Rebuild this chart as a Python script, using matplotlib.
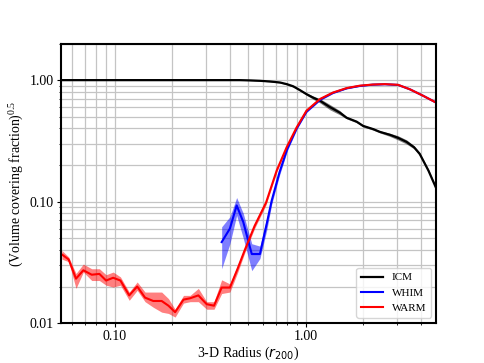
import numpy as np
import matplotlib
matplotlib.use("Agg")
import matplotlib.pyplot as plt
from matplotlib.ticker import FormatStrFormatter, NullFormatter

plt.rcParams['font.family'] = ['Liberation Serif', 'DejaVu Serif']
plt.rcParams['mathtext.fontset'] = 'custom'
plt.rcParams['mathtext.rm'] = 'Liberation Serif'
plt.rcParams['mathtext.it'] = 'DejaVu Sans:italic'
plt.rcParams['mathtext.sf'] = 'DejaVu Sans'

# ICM (black)
icm_x = [0.0528, 0.1, 0.2, 0.3, 0.4, 0.45, 0.51, 0.577, 0.65, 0.734, 0.80, 0.86, 0.93, 1.01, 1.09,
         1.19, 1.34, 1.51, 1.64, 1.85, 2.0, 2.26, 2.45, 2.76, 3.05, 3.38, 3.7, 3.96, 4.4, 4.82]
icm_y = [1.0, 1.0, 1.0, 1.0, 1.0, 1.0, 0.995, 0.987, 0.975, 0.956, 0.925, 0.89, 0.83, 0.767, 0.72,
         0.676, 0.60, 0.54, 0.49, 0.455, 0.42, 0.395, 0.375, 0.355, 0.335, 0.31, 0.28, 0.247, 0.18, 0.13]
icm_err = [0.005, 0.005, 0.005, 0.005, 0.005, 0.005, 0.005, 0.005, 0.01, 0.01, 0.015, 0.015, 0.015, 0.02, 0.03,
           0.04, 0.05, 0.04, 0.02, 0.02, 0.02, 0.02, 0.02, 0.03, 0.04, 0.04, 0.03, 0.03, 0.03, 0.03]

# WHIM (blue)
whim_x = [0.363, 0.401, 0.435, 0.471, 0.522, 0.576, 0.625, 0.664, 0.73, 0.80, 0.897, 1.01, 1.19,
          1.39, 1.64, 1.92, 2.25, 2.6, 3.05, 3.52, 4.13, 4.82]
whim_y = [0.0464, 0.060, 0.093, 0.068, 0.037, 0.037, 0.0655, 0.102, 0.175, 0.27, 0.40, 0.55, 0.69,
          0.785, 0.855, 0.895, 0.918, 0.925, 0.913, 0.84, 0.743, 0.654]
whim_lo = [0.028, 0.045, 0.077, 0.050, 0.027, 0.034, 0.058, 0.095, 0.165, 0.26, 0.39, 0.54, 0.68,
           0.775, 0.85, 0.89, 0.912, 0.92, 0.908, 0.835, 0.738, 0.648]
whim_hi = [0.062, 0.075, 0.108, 0.080, 0.045, 0.043, 0.073, 0.11, 0.185, 0.28, 0.41, 0.56, 0.70,
           0.795, 0.86, 0.90, 0.924, 0.93, 0.918, 0.845, 0.748, 0.66]

# WARM (red)
warm_x = [0.0528, 0.0573, 0.0626, 0.0684, 0.0757, 0.083, 0.090, 0.098, 0.107, 0.119, 0.131, 0.144,
          0.159, 0.176, 0.191, 0.207, 0.229, 0.248, 0.274, 0.303, 0.331, 0.363, 0.401, 0.44, 0.48,
          0.54, 0.62, 0.705, 0.795, 0.897, 1.01, 1.19, 1.39, 1.64, 1.92, 2.25, 2.6, 3.05, 3.52,
          4.13, 4.82]
warm_y = [0.0367, 0.0334, 0.0232, 0.0272, 0.025, 0.0254, 0.0224, 0.0236, 0.0224, 0.0169, 0.020,
          0.0162, 0.0152, 0.0152, 0.0139, 0.0123, 0.0156, 0.016, 0.0169, 0.0143, 0.0139, 0.0196,
          0.0196, 0.028, 0.040, 0.063, 0.098, 0.18, 0.28, 0.408, 0.56, 0.70, 0.79, 0.86, 0.90,
          0.92, 0.927, 0.915, 0.84, 0.743, 0.654]
warm_lo = [0.0336, 0.032, 0.0193, 0.0263, 0.0224, 0.0224, 0.0205, 0.0198, 0.0205, 0.0154, 0.0186,
           0.015, 0.0135, 0.0123, 0.012, 0.0112, 0.0146, 0.015, 0.015, 0.013, 0.013, 0.0175,
           0.018, 0.026, 0.038, 0.06, 0.094, 0.175, 0.275, 0.40, 0.55, 0.69, 0.785, 0.855, 0.895,
           0.915, 0.922, 0.91, 0.835, 0.738, 0.648]
warm_hi = [0.0396, 0.035, 0.0256, 0.0306, 0.028, 0.028, 0.025, 0.0263, 0.024, 0.018, 0.0218,
           0.018, 0.018, 0.018, 0.0159, 0.013, 0.0169, 0.0169, 0.0193, 0.015, 0.015, 0.0227,
           0.021, 0.030, 0.042, 0.066, 0.102, 0.185, 0.285, 0.416, 0.57, 0.71, 0.795, 0.865, 0.905,
           0.925, 0.932, 0.92, 0.845, 0.748, 0.66]

fig, ax = plt.subplots(figsize=(4.85, 3.63), dpi=100)

icm_y = np.array(icm_y)
icm_err = np.array(icm_err)
ax.fill_between(icm_x, icm_y * (1 - icm_err), icm_y * (1 + icm_err), color='black', alpha=0.5, lw=0)
ax.plot(icm_x, icm_y, color='black', lw=1.6, label='ICM')

ax.fill_between(whim_x, whim_lo, whim_hi, color='blue', alpha=0.5, lw=0)
ax.plot(whim_x, whim_y, color='blue', lw=1.5, label='WHIM')

ax.fill_between(warm_x, warm_lo, warm_hi, color='red', alpha=0.5, lw=0)
ax.plot(warm_x, warm_y, color='red', lw=1.5, label='WARM')

ax.set_xscale('log')
ax.set_yscale('log')
ax.set_xlim(0.052, 4.85)
ax.set_ylim(0.01, 2.0)

ax.xaxis.set_major_formatter(FormatStrFormatter('%.2f'))
ax.yaxis.set_major_formatter(FormatStrFormatter('%.2f'))
ax.xaxis.set_minor_formatter(NullFormatter())
ax.yaxis.set_minor_formatter(NullFormatter())
ax.tick_params(which='major', direction='out', length=3, pad=2, labelsize=10)
ax.tick_params(which='minor', direction='out', length=1.5)

ax.grid(True, which='both', color='#c4c4c4', lw=0.9)
ax.set_axisbelow(True)
for s in ax.spines.values():
    s.set_linewidth(1.5)

ax.set_xlabel(r'3-D Radius ($r_{\mathsf{200}}$)', fontsize=10, labelpad=1)
ax.set_ylabel('(Volume covering fraction)$^{0.5}$', fontsize=10, labelpad=3)
ax.legend(loc='lower right', fontsize=8)

fig.savefig('out.png', dpi=100)
